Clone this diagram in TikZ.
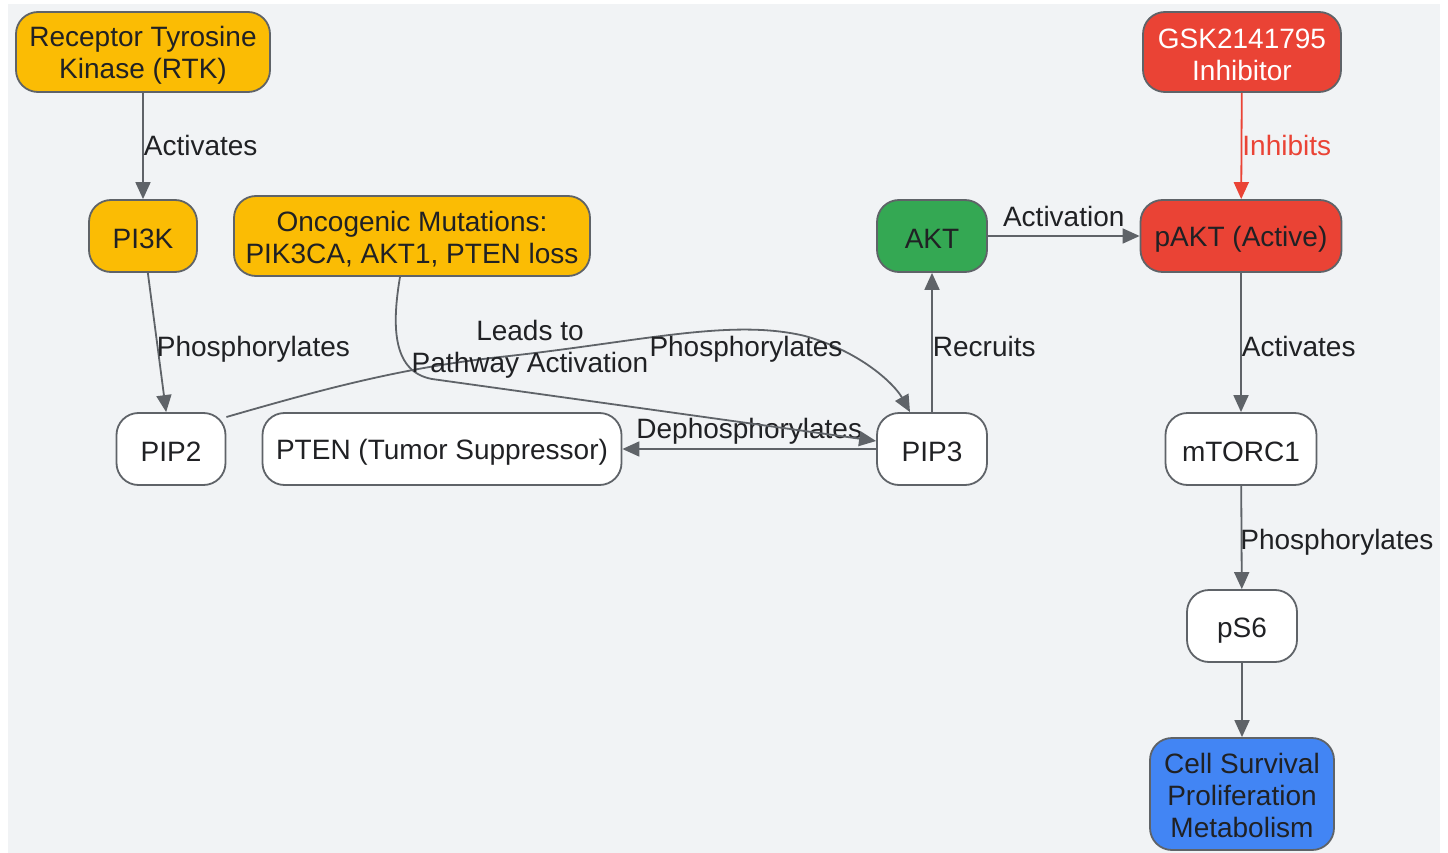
\documentclass[tikz,border=0pt]{standalone}
\usepackage{fontspec}
\setmainfont{Liberation Sans}
\usetikzlibrary{arrows.meta}
\definecolor{bggray}{HTML}{F1F3F5}
\definecolor{edgegray}{HTML}{5F6368}
\definecolor{txt}{HTML}{202124}
\definecolor{gold}{HTML}{FBBC04}
\definecolor{gred}{HTML}{EA4335}
\definecolor{ggreen}{HTML}{34A853}
\definecolor{gblue}{HTML}{4285F4}
\tikzset{
  box/.style={draw=edgegray, line width=1.8pt, rounded corners=22pt, inner sep=0pt},
  boxtxt/.style={text=txt, font=\fontsize{28}{32}\selectfont, inner sep=0pt, align=center, yshift=-3pt},
  conn/.style={draw=edgegray, line width=1.8pt, -{Triangle[length=17pt,width=15pt]}},
  lbl/.style={text=txt, font=\fontsize{28}{32}\selectfont, inner sep=0pt, align=center},
}
\begin{document}
\begin{tikzpicture}[x=1pt,y=-1pt]
\useasboundingbox (0,0) rectangle (1448,853);
\fill[bggray] (8,4) rectangle (1440,853);

% nodes
\node[box, fill=gold, minimum width=254pt, minimum height=80pt,
  label={[boxtxt]center:{Receptor Tyrosine\\Kinase (RTK)}}] (rtk) at (143,52) {};
\node[box, fill=gred, minimum width=198pt, minimum height=80pt,
  label={[boxtxt, text=white]center:{GSK2141795\\Inhibitor}}] (gsk) at (1242,52) {};
\node[box, fill=gold, minimum width=108pt, minimum height=72pt,
  label={[boxtxt]center:{PI3K}}] (pi3k) at (143,236) {};
\node[box, fill=gold, minimum width=356pt, minimum height=80pt,
  label={[boxtxt]center:{Oncogenic Mutations:\\PIK3CA, AKT1, PTEN loss}}] (onco) at (412,236) {};
\node[box, fill=ggreen, minimum width=110pt, minimum height=72pt,
  label={[boxtxt]center:{AKT}}] (akt) at (932,236) {};
\node[box, fill=gred, minimum width=201pt, minimum height=72pt,
  label={[boxtxt]center:{pAKT (Active)}}] (pakt) at (1241,236) {};
\node[box, fill=white, minimum width=109pt, minimum height=72pt,
  label={[boxtxt]center:{PIP2}}] (pip2) at (171,449) {};
\node[box, fill=white, minimum width=359pt, minimum height=72pt,
  label={[boxtxt]center:{PTEN (Tumor Suppressor)}}] (pten) at (442,449) {};
\node[box, fill=white, minimum width=110pt, minimum height=72pt,
  label={[boxtxt]center:{PIP3}}] (pip3) at (932,449) {};
\node[box, fill=white, minimum width=151pt, minimum height=72pt,
  label={[boxtxt]center:{mTORC1}}] (mtorc) at (1241,449) {};
\node[box, fill=white, minimum width=110pt, minimum height=72pt,
  label={[boxtxt, yshift=-2pt]center:{pS6}}] (ps6) at (1242,626) {};
\node[box, fill=gblue, minimum width=184pt, minimum height=112pt,
  label={[boxtxt, yshift=2pt]center:{Cell Survival\\Proliferation\\Metabolism}}] (cell) at (1242,794) {};

% straight connectors
\draw[conn] (rtk) -- node[lbl, midway, anchor=west, yshift=1pt] {Activates} (pi3k);
\draw[conn, draw=gred] (gsk) -- node[lbl, midway, anchor=west, text=gred, yshift=1pt] {Inhibits} (pakt);
\draw[conn] (pi3k) -- node[lbl, midway, anchor=west, xshift=-1pt, yshift=-7pt] {Phosphorylates} (pip2);
\draw[conn] (akt) -- node[lbl, midway, yshift=20pt] {Activation} (pakt);
\draw[conn] (pip3) -- node[lbl, midway, anchor=west, yshift=-4pt] {Recruits} (akt);
\draw[conn] (pakt) -- node[lbl, midway, anchor=west, yshift=-4pt] {Activates} (mtorc);
\draw[conn] (mtorc) -- node[lbl, midway, anchor=west, xshift=-2pt, yshift=-5pt] {Phosphorylates} (ps6);
\draw[conn] (ps6) -- (cell);
\draw[conn] (pip3) -- node[lbl, midway, yshift=18pt] {Dephosphorylates} (pten);

% curved connectors
\draw[conn] (pip2.30) .. controls (320,390) and (400,368) .. (500,357)
  .. controls (640,342) and (730,318) .. (805,336)
  .. controls (862,352) and (895,385) .. ([xshift=-22pt]pip3.north);
\draw[conn] ([xshift=-12pt]onco.south) .. controls (391,330) and (394,372) .. (432,379)
  -- ([yshift=8pt]pip3.west);

\node[lbl] (lblphos) at (746,349) {Phosphorylates};
\node[lbl] (lbllead) at (530,349) {Leads to\\Pathway Activation};
\end{tikzpicture}
\end{document}
